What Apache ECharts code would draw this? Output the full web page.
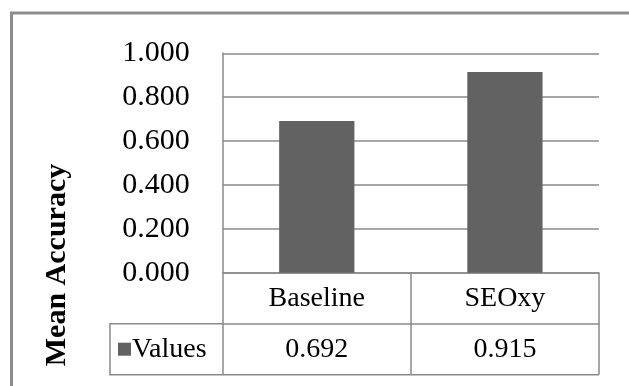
<!DOCTYPE html>
<html>
<head>
<meta charset="utf-8">
<script src="https://cdn.jsdelivr.net/npm/echarts@6/dist/echarts.min.js"></script>
<style>
html,body{margin:0;padding:0;background:#fff;}
#c{width:629px;height:386px;}
</style>
</head>
<body>
<div id="c"></div>
<script>
// ---- data ----
const categories = ['Baseline', 'SEOxy'];
const values = [0.692, 0.915];
const seriesName = 'Values';
const axisTitle = 'Mean Accuracy';
const yMin = 0, yMax = 1, yStep = 0.2;

// ---- layout ----
const W = 629, H = 386;
const gridL = 222.7, gridR = 599, gridT = 53.3, gridB = 272.7;
const rowH = 51;          // height of each table row
const headerL = 110;      // left edge of the series-name cell
const FONT = '"Liberation Serif", "Times New Roman", serif';
const LINE = '#8a8a8a';
const BAR = '#626262';

const chart = echarts.init(document.getElementById('c'), null, {renderer: 'canvas'});

const row1Bottom = gridB + rowH;
const row2Bottom = gridB + 2 * rowH;

chart.setOption({
  animation: false,
  backgroundColor: '#fff',
  grid: {left: gridL, right: W - gridR, top: gridT, bottom: H - gridB, containLabel: false},
  legend: {
    data: [{name: seriesName, icon: 'rect'}],
    left: headerL + 8, top: row1Bottom + rowH / 2 - 14,
    padding: 0,
    itemWidth: 13, itemHeight: 13,
    textStyle: {fontFamily: FONT, fontSize: 28, color: '#000', padding: [0, 0, 0, -4]},
    selectedMode: false
  },
  xAxis: [
    {
      type: 'category', data: categories, position: 'bottom',
      axisLine: {show: true, lineStyle: {color: LINE, width: 1.5}},
      axisTick: {show: true, interval: 0, length: 2 * rowH, lineStyle: {color: LINE, width: 1.5}},
      axisLabel: {fontFamily: FONT, fontSize: 28, color: '#000', margin: rowH / 2, verticalAlign: 'middle', interval: 0}
    },
    {
      type: 'category', data: categories, position: 'bottom', offset: rowH,
      axisLine: {show: true, lineStyle: {color: LINE, width: 1.5}},
      axisTick: {show: false},
      axisLabel: {
        fontFamily: FONT, fontSize: 28, color: '#000', margin: rowH / 2, verticalAlign: 'middle', interval: 0,
        formatter: (v, i) => values[i].toFixed(3)
      }
    }
  ],
  yAxis: {
    type: 'value', min: yMin, max: yMax, interval: yStep,
    axisLine: {show: true, lineStyle: {color: LINE, width: 1.5}},
    axisTick: {show: false},
    splitLine: {show: true, lineStyle: {color: LINE, width: 1.5}},
    axisLabel: {fontFamily: FONT, fontSize: 30, color: '#000', margin: 33, padding: [4, 0, 0, 0], formatter: v => v.toFixed(3)}
  },
  series: [{
    name: seriesName, type: 'bar', data: values, barWidth: '40%',
    itemStyle: {color: BAR}
  }],
  graphic: [
    {
      type: 'rect', silent: true,
      shape: {x: 11.5, y: 13, width: W, height: H},
      style: {fill: 'none', stroke: '#8c8c8c', lineWidth: 3}
    },
    {
      type: 'polyline', silent: true,
      shape: {points: [[gridL, row1Bottom], [headerL, row1Bottom], [headerL, row2Bottom], [gridR, row2Bottom]]},
      style: {fill: 'none', stroke: LINE, lineWidth: 1.5}
    },
    {
      type: 'text', silent: true, x: 57, y: 265, rotation: Math.PI / 2,
      style: {text: axisTitle, font: 'bold 30px ' + FONT, fill: '#000', align: 'center', verticalAlign: 'middle'}
    }
  ]
});
</script>
</body>
</html>
